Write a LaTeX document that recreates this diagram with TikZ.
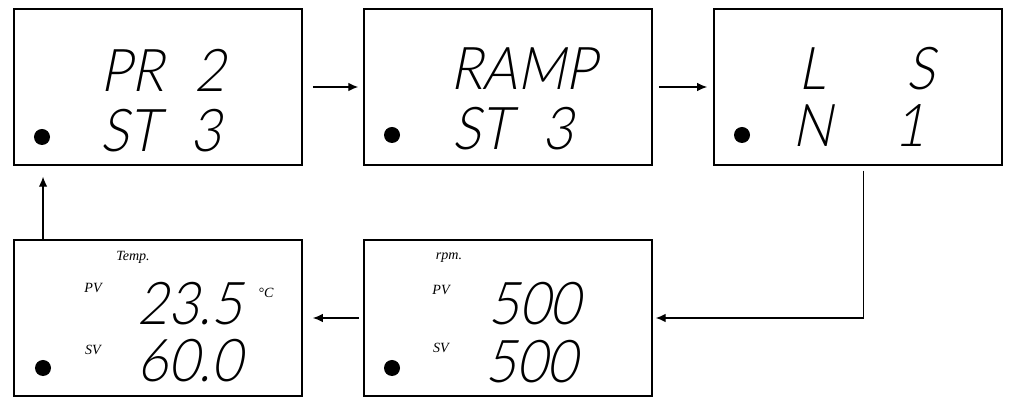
\documentclass[tikz,border=0pt]{standalone}
\usepackage{fontspec}
\usetikzlibrary{positioning,arrows.meta,calc}
\IfFontExistsTF{Lato Light}
  {\newfontfamily\lcdfont{Lato Light}[FakeSlant=0.2,FakeStretch=0.9]}
  {\newfontfamily\lcdfont{Liberation Sans}[FakeSlant=0.2,FakeStretch=0.9]}
\newfontfamily\tagfont{Liberation Serif}
\newcommand{\lcd}{\lcdfont\fontsize{42}{42}\selectfont}
\newcommand{\tagtxt}{\tagfont\itshape\fontsize{10}{10}\selectfont}

\begin{document}
\begin{tikzpicture}[>={Latex[length=7pt,width=6pt]},x=0.025cm,y=-0.025cm,
  panel/.style={draw,line width=1.3pt,minimum width=7.2cm,minimum height=3.9cm},
  seg/.style={anchor=base west,inner sep=0pt,font=\lcd},
  tag/.style={inner sep=0pt,font=\tagtxt},
  link/.style={->,line width=0.8pt}]
  \useasboundingbox (0,0) rectangle (1009,399);
  \node[panel] (pr) at (158,87) {};
  \node[panel] (ramp) at (508,87) {};
  \node[panel] (ls) at (858,87) {};
  \node[panel] (temp) at (158,318) {};
  \node[panel] (rpm) at (508,318) {};
  \foreach \x/\y in {42/137,392/135,742/135,43/368,392/368} {\fill (\x,\y) circle[radius=0.2cm];}
  \node[seg] (pr1) at (100,92) {PR\phantom{0}2};
  \node[seg] (pr2) at (100,152) {ST\phantom{0}3};
  \node[seg] (ramp1) at (450,90) {RAMP};
  \node[seg] (ramp2) at (452,150) {ST\phantom{0}3};
  \node[seg] (ls1) at (798,90) {L\phantom{00}\hspace{14pt}S};
  \node[seg] (ls2) at (792,147) {N\phantom{00}1};
  \node[seg] (temp1) at (137,325) {23.5};
  \node[seg] (temp2) at (137,382) {60.0};
  \node[seg] (rpm1) at (488,325) {500};
  \node[seg] (rpm2) at (485,383) {500};
  \node[tag] (templbl) at (133,257) {Temp.};
  \node[tag] (temppv) at (93,288) {PV};
  \node[tag] (tempsv) at (93,350) {SV};
  \node[tag] (tempunit) at (266,293) {°C};
  \node[tag] (rpmlbl) at (449,258) {rpm.};
  \node[tag] (rpmpv) at (441,290) {PV};
  \node[tag] (rpmsv) at (441,348) {SV};
  \draw[link,shorten <=0.25cm,shorten >=0.12cm] (pr) -- (ramp);
  \draw[link,shorten <=0.15cm,shorten >=0.15cm] (ramp) -- (ls);
  \draw[link,shorten <=0.12cm,shorten >=0.07cm] ([xshift=0.14cm]ls.south) |- (rpm.east);
  \draw[link,shorten <=0.1cm,shorten >=0.25cm] (rpm) -- (temp);
  \draw[link,shorten >=0.27cm] ([xshift=0.75cm]temp.north west) -- ([xshift=0.75cm]pr.south west);
\end{tikzpicture}
\end{document}
